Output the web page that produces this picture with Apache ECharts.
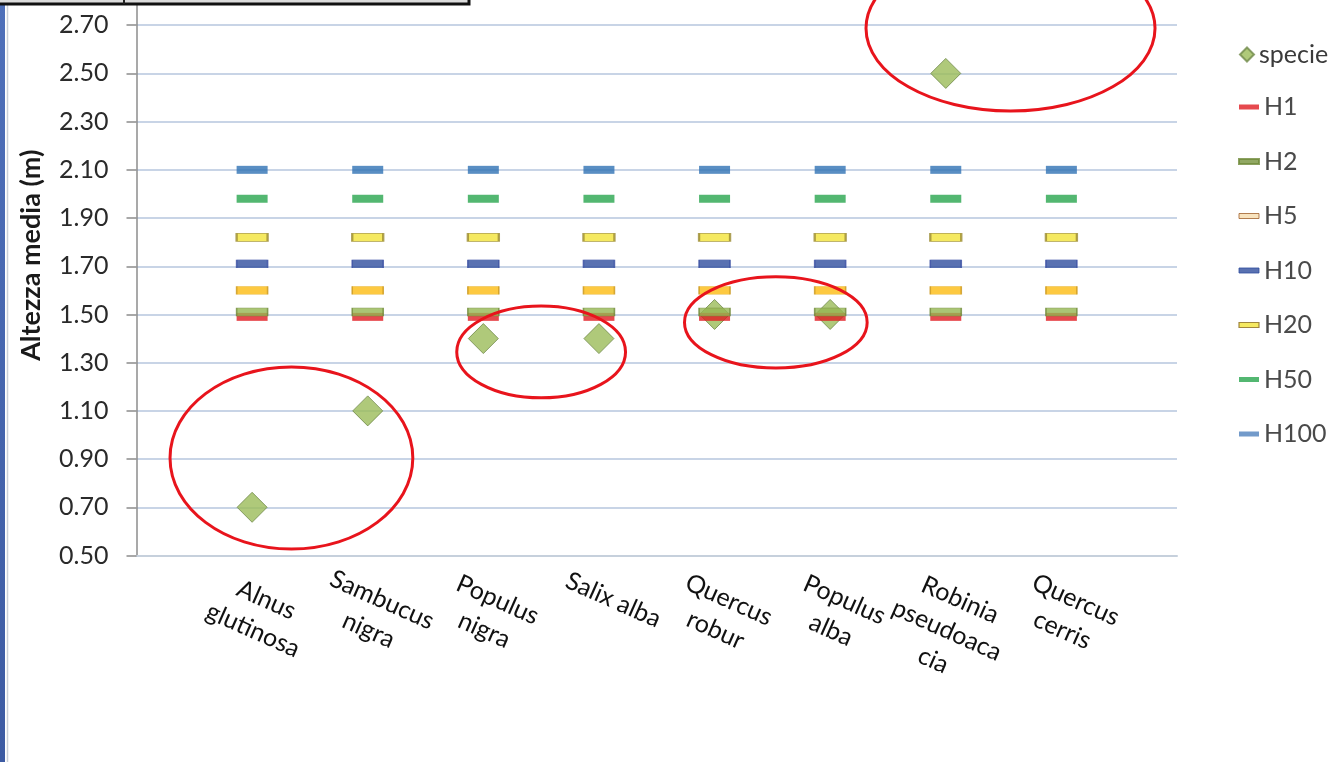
<!DOCTYPE html>
<html>
<head>
<meta charset="utf-8">
<title>Altezza media per specie</title>
<script src="https://cdn.jsdelivr.net/npm/echarts@6/dist/echarts.min.js"></script>
<style>
  html, body { margin: 0; padding: 0; background: #ffffff; }
  #chart { width: 1342px; height: 762px; }
</style>
</head>
<body>
<div id="chart"></div>
<script>
// Species along the x axis and their wrapped tick labels
const categories = ['Alnus glutinosa', 'Sambucus nigra', 'Populus nigra', 'Salix alba',
                    'Quercus robur', 'Populus alba', 'Robinia pseudoacacia', 'Quercus cerris'];
const categoryLabels = ['Alnus\nglutinosa', 'Sambucus\nnigra', 'Populus\nnigra', 'Salix alba',
                        'Quercus\nrobur', 'Populus\nalba', 'Robinia\npseudoaca\ncia', 'Quercus\ncerris'];

// Mean height of each species (m); no value for Quercus cerris
const specie = [0.70, 1.10, 1.40, 1.40, 1.50, 1.50, 2.50, null];

// Reference heights H1 ... H100 (m) for each species
const H1   = [1.49, 1.49, 1.49, 1.49, 1.49, 1.49, 1.49, 1.49];
const H2   = [1.51, 1.51, 1.51, 1.51, 1.51, 1.51, 1.51, 1.51];
const H5   = [1.60, 1.60, 1.60, 1.60, 1.60, 1.60, 1.60, 1.60];
const H10  = [1.71, 1.71, 1.71, 1.71, 1.71, 1.71, 1.71, 1.71];
const H20  = [1.82, 1.82, 1.82, 1.82, 1.82, 1.82, 1.82, 1.82];
const H50  = [1.98, 1.98, 1.98, 1.98, 1.98, 1.98, 1.98, 1.98];
const H100 = [2.10, 2.10, 2.10, 2.10, 2.10, 2.10, 2.10, 2.10];

// Y axis tick values
const yTicks = [0.50, 0.70, 0.90, 1.10, 1.30, 1.50, 1.70, 1.90, 2.10, 2.30, 2.50, 2.70];

// Highlighted groups, as ranges in axis units (category position, metres)
const highlights = [
  { x: [0.29, 2.39], y: [0.527, 1.282] },
  { x: [2.77, 4.23], y: [1.154, 1.535] },
  { x: [4.74, 6.32], y: [1.278, 1.656] },
  { x: [6.31, 8.81], y: [2.344, 3.030] }
];

// Axis carries an empty slot at each end so species sit inside the plot
const axisCategories = [''].concat(categories, [' ']);
const pairs = vals => vals.map((v, i) => [categories[i], v]).filter(p => p[1] !== null);

const FONT = 'Lato, "Open Sans", sans-serif';
const DASH = [31, 8];

const refSeries = [
  { name: 'H1',   data: H1,   style: { color: '#e01b22' } },
  { name: 'H2',   data: H2,   style: { color: '#95b653', borderColor: '#6f8a3a', borderWidth: 0.8 } },
  { name: 'H5',   data: H5,   style: { color: '#fcbc12', borderColor: '#c9961c', borderWidth: 0.8 } },
  { name: 'H10',  data: H10,  style: { color: '#2f4d9e', borderColor: '#3a4fa3', borderWidth: 0.8 } },
  { name: 'H20',  data: H20,  style: { color: '#f3e43a', borderColor: '#9a8a30', borderWidth: 1.2 } },
  { name: 'H50',  data: H50,  style: { color: '#28a54d' } },
  { name: 'H100', data: H100, style: { color: '#2f72b4' } }
];

const legendIcons = {
  H1:   { color: '#e01b22' },
  H2:   { color: '#76923c' },
  H5:   { color: '#f6dcae', borderColor: '#a0602a', borderWidth: 1 },
  H10:  { color: '#2f4d9e', borderColor: '#2f4d9e', borderWidth: 1 },
  H20:  { color: '#f3e43a', borderColor: '#8a6a20', borderWidth: 1.2 },
  H50:  { color: '#28a54d' },
  H100: { color: '#4f81bd' }
};

const option = {
  backgroundColor: '#ffffff',
  animation: false,
  grid: { left: 136.5, right: 165, top: -23, bottom: 206.5, outerBoundsMode: 'none', containLabel: false },
  xAxis: {
    type: 'category',
    data: axisCategories,
    boundaryGap: false,
    axisLine: { show: true, lineStyle: { color: '#c6d0dc', width: 2 } },
    axisTick: { show: false },
    splitLine: { show: false },
    axisLabel: {
      interval: 0,
      rotate: -24,
      align: 'center',
      verticalAlign: 'top',
      margin: 20,
      padding: [0, 0, 0, 46],
      fontFamily: FONT,
      fontSize: 25,
      lineHeight: 33,
      color: '#111111',
      formatter: (value, index) => (index >= 1 && index <= categories.length) ? categoryLabels[index - 1] : ''
    }
  },
  yAxis: {
    type: 'value',
    min: 0.5,
    max: 2.9,
    name: 'Altezza media (m)',
    nameLocation: 'middle',
    nameGap: 92,
    nameRotate: 90,
    nameTextStyle: { fontFamily: FONT, fontSize: 27, fontWeight: 'bold', color: '#1a1a1a', padding: [0, 0, 0, 22] },
    axisLine: { show: true, lineStyle: { color: '#8c8c8c', width: 1.5 } },
    axisTick: { show: true, inside: false, length: 10, customValues: yTicks, lineStyle: { color: '#8c8c8c', width: 1.5 } },
    axisLabel: {
      customValues: yTicks,
      margin: 28,
      fontFamily: FONT,
      fontSize: 25,
      color: '#2a2a2a',
      formatter: v => v.toFixed(2)
    },
    splitLine: { show: true, lineStyle: { color: '#c8d4e6', width: 2 } }
  },
  legend: [
    {
      orient: 'vertical',
      left: 1239,
      top: 42,
      padding: 0,
      data: [{ name: 'specie', icon: 'diamond' }],
      itemWidth: 14,
      itemHeight: 14,
      itemGap: 10,
      textStyle: { fontFamily: FONT, fontSize: 25, color: '#3a3a3a' }
    },
    {
      orient: 'vertical',
      left: 1238,
      top: 94,
      padding: 0,
      icon: 'rect',
      itemWidth: 20,
      itemHeight: 5,
      itemGap: 28.5,
      data: refSeries.map(s => ({ name: s.name, itemStyle: legendIcons[s.name] })),
      textStyle: { fontFamily: FONT, fontSize: 25, color: '#4a4a4a', lineHeight: 26 }
    }
  ],
  series: [
    {
      name: 'specie',
      type: 'scatter',
      symbol: 'diamond',
      symbolSize: 30,
      z: 2,
      itemStyle: { color: '#9bbb59', borderColor: '#71894a', borderWidth: 1 },
      data: pairs(specie)
    }
  ].concat(refSeries.map(s => ({
    name: s.name,
    type: 'scatter',
    symbol: 'rect',
    symbolSize: DASH,
    z: 3,
    itemStyle: s.style,
    data: pairs(s.data)
  })))
};

const chart = echarts.init(document.getElementById('chart'));
chart.setOption(option);

// Page frame pieces and the red rings around highlighted groups
function drawOverlay() {
  const a = chart.convertToPixel({ gridIndex: 0 }, [0, 0.5]);
  const b = chart.convertToPixel({ gridIndex: 0 }, [1, 1.5]);
  const stepX = b[0] - a[0];
  const stepY = b[1] - a[1];
  const rings = highlights.map((h, i) => {
    const x0 = a[0] + h.x[0] * stepX, x1 = a[0] + h.x[1] * stepX;
    const y0 = a[1] + (h.y[0] - 0.5) * stepY, y1 = a[1] + (h.y[1] - 0.5) * stepY;
    return {
      id: 'ring' + i,
      type: 'ellipse',
      z: 100,
      shape: { cx: (x0 + x1) / 2, cy: (y0 + y1) / 2, rx: Math.abs(x1 - x0) / 2, ry: Math.abs(y1 - y0) / 2 },
      style: { fill: null, stroke: '#e8141c', lineWidth: 3 }
    };
  });
  const frame = [
    { id: 'sideBar', type: 'rect', z: 50, shape: { x: 0, y: 0, width: 5, height: 762 },
      style: { fill: new echarts.graphic.LinearGradient(0, 0, 0, 1, [
        { offset: 0, color: '#4f70ba' }, { offset: 1, color: '#3d5ba3' }]) } },
    { id: 'sideRule', type: 'line', z: 50, shape: { x1: 7.5, y1: 0, x2: 7.5, y2: 762 },
      style: { stroke: '#c9cfd8', lineWidth: 1.5 } },
    { id: 'topBox', type: 'rect', z: 50, shape: { x: -5, y: -20, width: 474, height: 24 },
      style: { fill: '#dcdcdc', stroke: '#111111', lineWidth: 3 } },
    { id: 'topDivider', type: 'line', z: 51, shape: { x1: 124, y1: -5, x2: 124, y2: 4 },
      style: { stroke: '#222222', lineWidth: 2 } }
  ];
  chart.setOption({ graphic: frame.concat(rings) });
}
drawOverlay();
</script>
</body>
</html>
